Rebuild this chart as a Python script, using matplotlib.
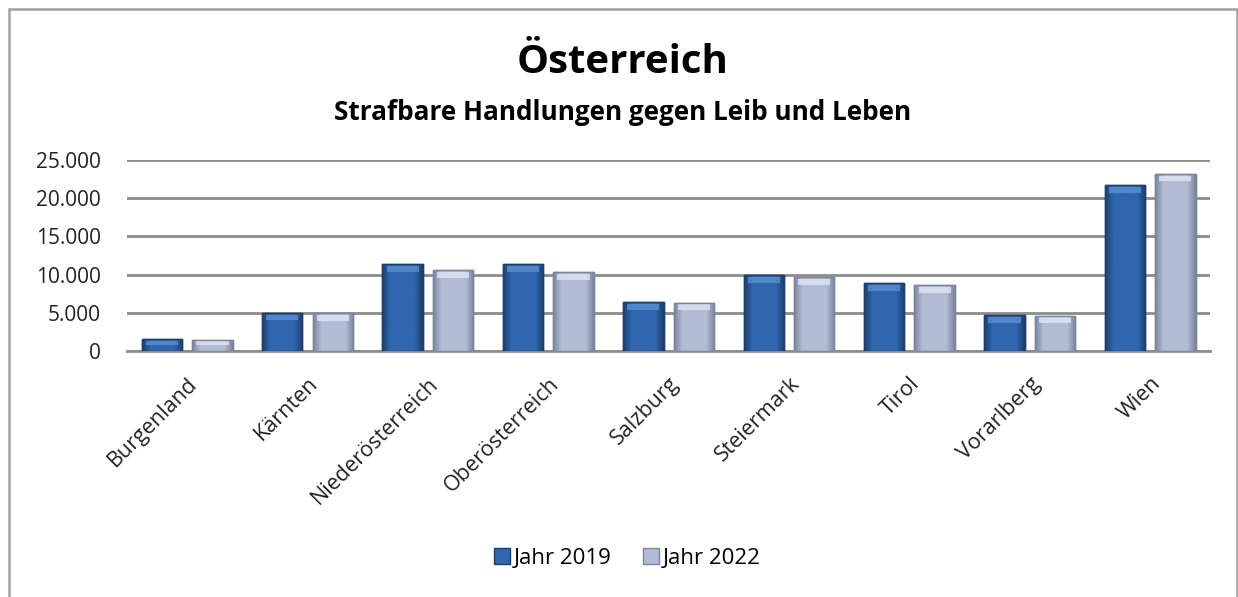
import matplotlib.pyplot as plt
import matplotlib as mpl
import numpy as np
from matplotlib.patches import Rectangle
from matplotlib.ticker import FuncFormatter

laender = ["Burgenland", "Kärnten", "Niederösterreich", "Oberösterreich", "Salzburg",
           "Steiermark", "Tirol", "Vorarlberg", "Wien"]
jahr_2019 = [1550, 5000, 11400, 11400, 6400, 9900, 8900, 4700, 21700]
jahr_2022 = [1500, 4950, 10600, 10300, 6350, 9700, 8600, 4650, 23200]
serien = ["Jahr 2019", "Jahr 2022"]

mpl.rcParams['font.family'] = ['Open Sans', 'DejaVu Sans']

fig = plt.figure(figsize=(12.38, 5.97), dpi=100)
ax = fig.add_axes([0.1026, 0.412, 0.875, 0.32])

x = np.arange(len(laender))
w = 0.335
off = 0.21

# base colours, edge colours and light tone for the bevel
stil = [("#2F66AE", "#1E3E6C", "#5C93D4"), ("#B2BDD5", "#7B869E", "#E2E8F4")]

for i, (werte, (farbe, kante, hell)) in enumerate(zip([jahr_2019, jahr_2022], stil)):
    pos = x + (i * 2 - 1) * off
    bars = ax.bar(pos, werte, width=w, color=farbe, edgecolor=kante, linewidth=1.0,
                  label=serien[i], zorder=3)
    cmap = mpl.colors.LinearSegmentedColormap.from_list(
        "b", [kante, farbe, farbe, farbe, farbe, kante])
    grad = np.linspace(0, 1, 64).reshape(1, -1)
    for b in bars:
        bx, by = b.get_x(), b.get_y()
        bw, bh = b.get_width(), b.get_height()
        im = ax.imshow(grad, extent=[bx, bx + bw, by, by + bh], aspect="auto",
                       cmap=cmap, zorder=3.5)
        im.set_clip_path(b)
        # lighter bevel at the top
        kopf = min(bh * 0.45, 1000)
        ax.add_patch(Rectangle((bx + bw * 0.1, by + bh - kopf), bw * 0.8, kopf * 0.75,
                               color=hell, alpha=0.75, lw=0, zorder=3.6))
        ax.add_patch(Rectangle((bx, by), bw, bh, fill=False, edgecolor=kante, lw=1.0, zorder=3.7))

ax.set_xlim(-0.5, len(laender) - 0.5)
ax.set_ylim(0, 25000)
ax.set_yticks(range(0, 25001, 5000))
ax.yaxis.set_major_formatter(FuncFormatter(lambda v, p: f"{int(v):,}".replace(",", ".")))
ax.grid(axis="y", color="#8C8C8C", linewidth=2.0, zorder=0)
ax.set_axisbelow(True)
for s in ["top", "right", "left"]:
    ax.spines[s].set_visible(False)
ax.spines["bottom"].set_color("#8C8C8C")
ax.spines["bottom"].set_linewidth(2.0)
ax.tick_params(axis="both", length=0, labelsize=15, colors="#222222")
ax.tick_params(axis="y", pad=19)
ax.tick_params(axis="x", pad=16)
ax.set_xticks(x)
ax.set_xticklabels(laender, rotation=45, ha="right", rotation_mode="anchor", fontsize=15.5)

fig.text(0.503, 0.895, "Österreich", ha="center", va="center", fontsize=29, fontweight="bold")
fig.text(0.503, 0.812, "Strafbare Handlungen gegen Leib und Leben", ha="center", va="center",
         fontsize=18.8, fontweight="bold")

fig.legend(loc="center", bbox_to_anchor=(0.507, 0.065), ncol=2, frameon=False,
           fontsize=16, handlelength=0.7, handleheight=0.7, handletextpad=0.2,
           columnspacing=1.4)

# outer chart frame
fig.patches.append(Rectangle((0.007, -0.01), 0.992, 0.995, transform=fig.transFigure,
                             fill=False, edgecolor="#A0A0A0", linewidth=1.8))

plt.savefig("out.png", dpi=100)
